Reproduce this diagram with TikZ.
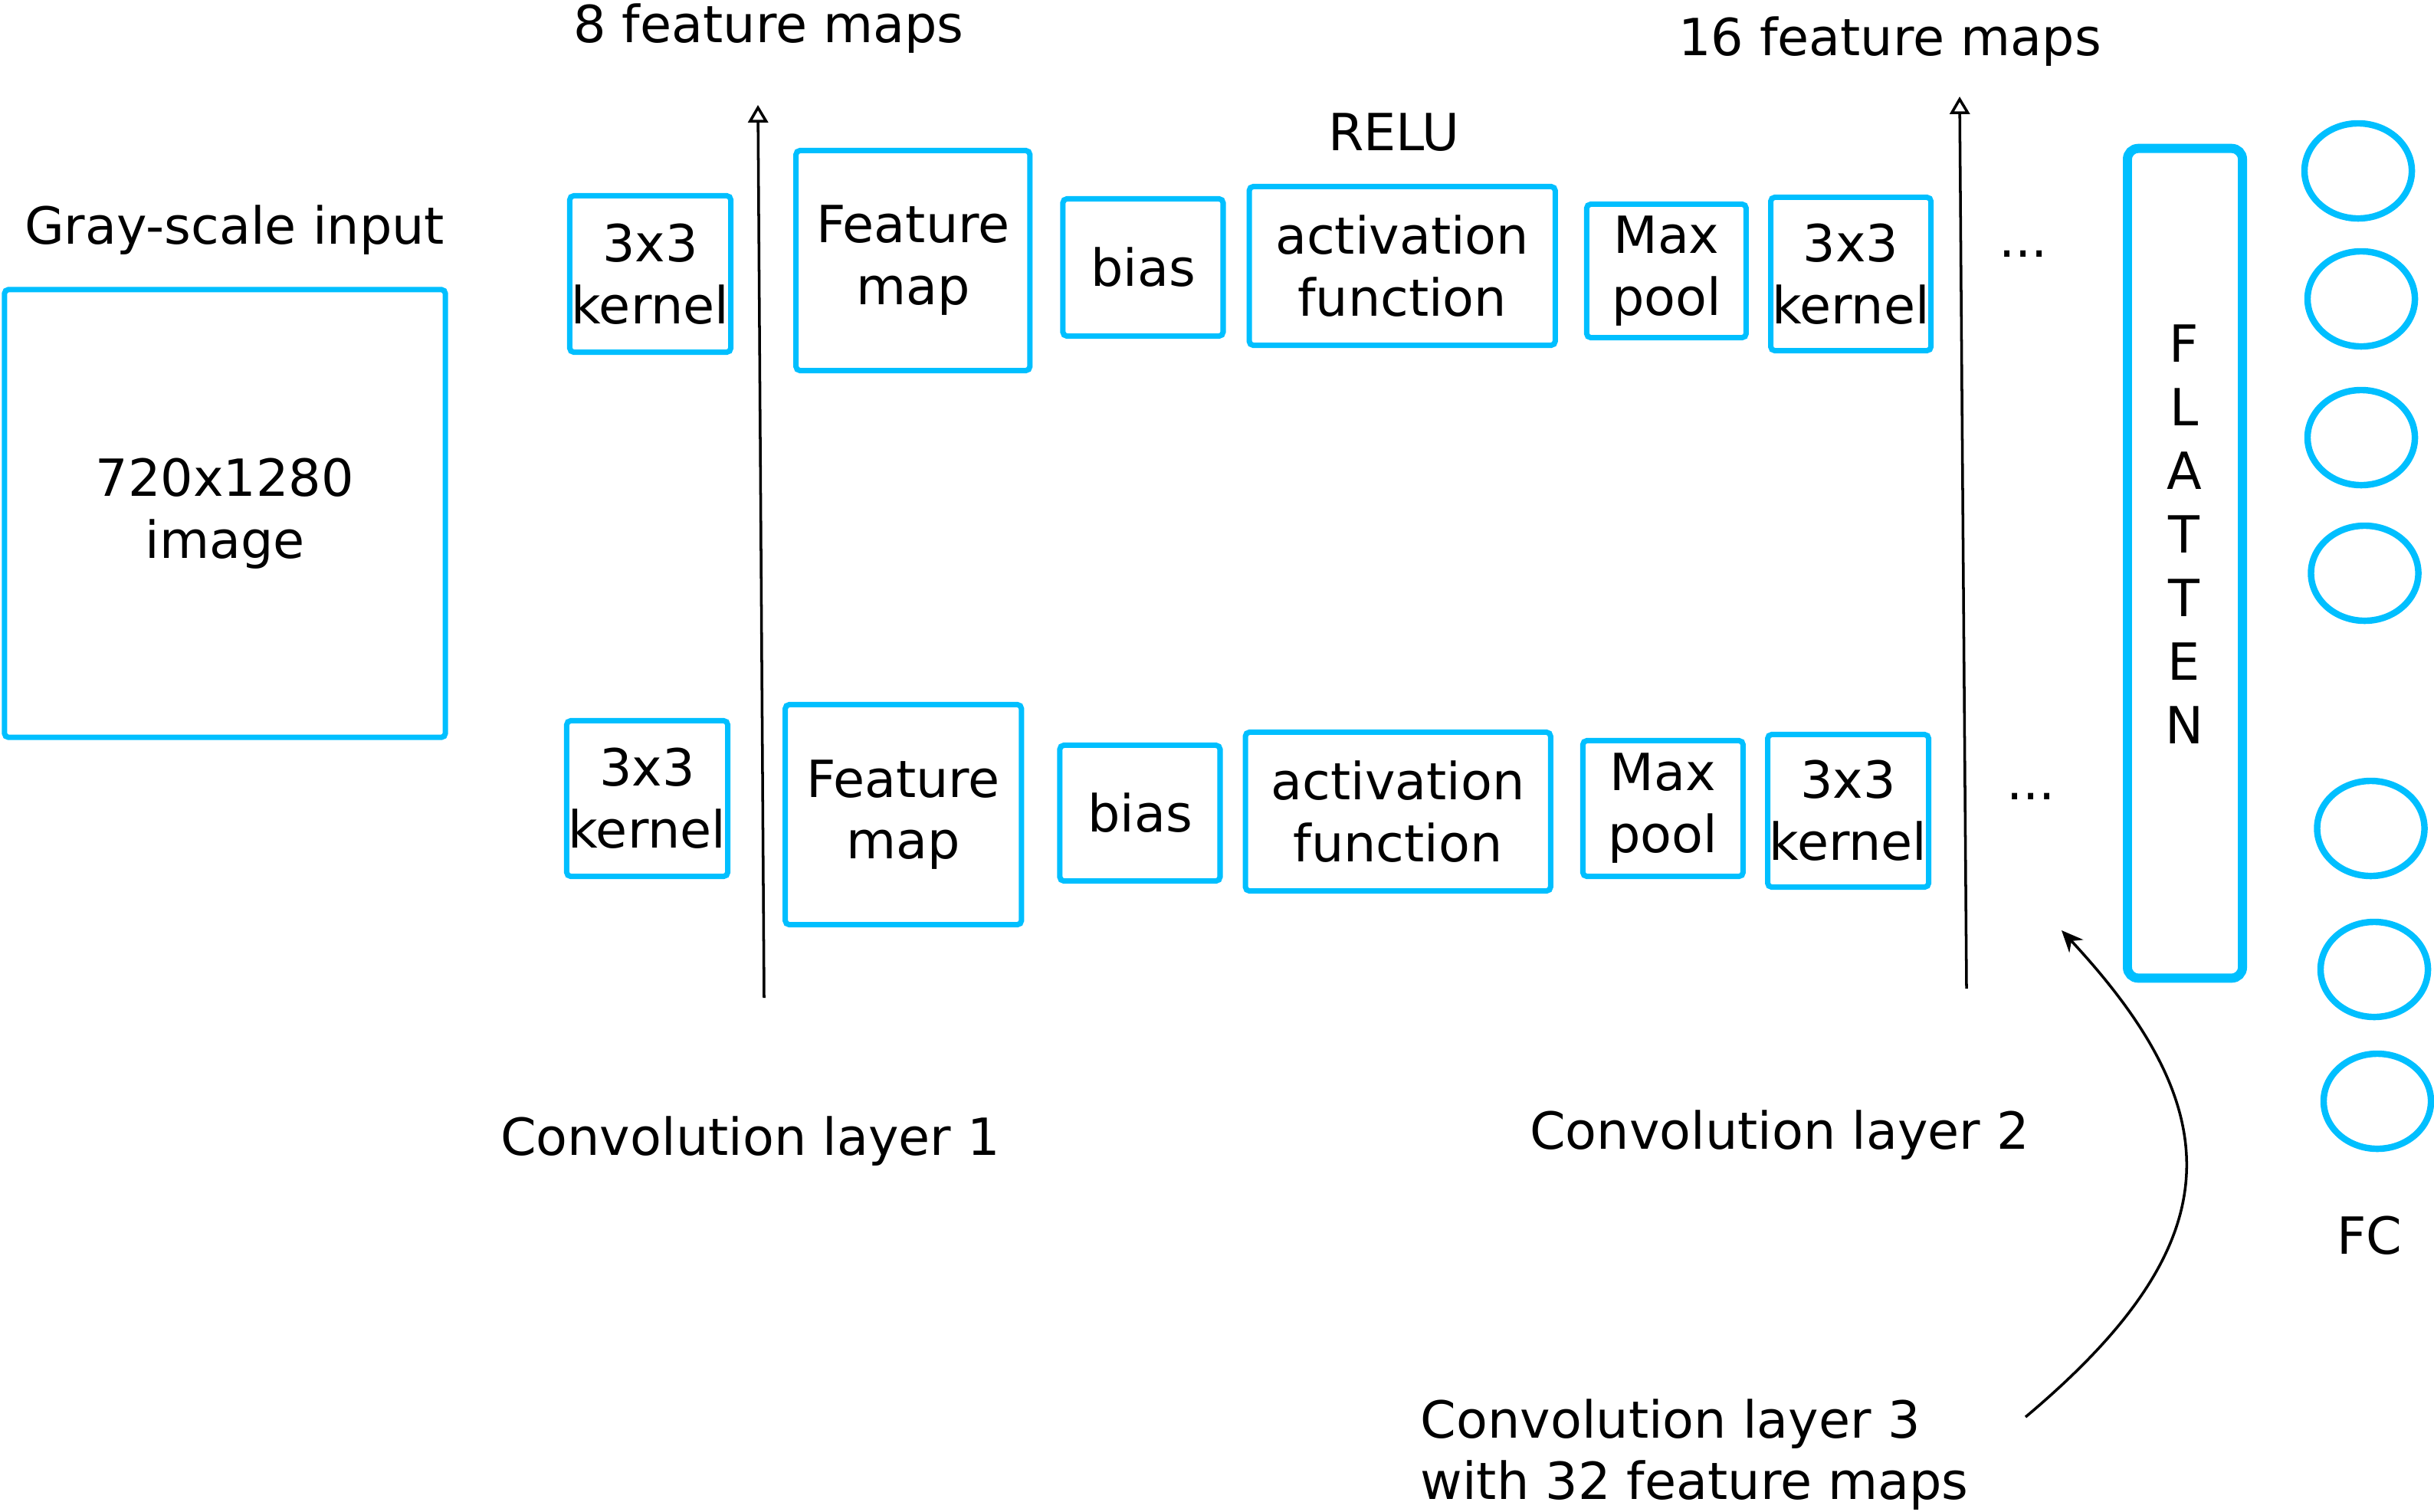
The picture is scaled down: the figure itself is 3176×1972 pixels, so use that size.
\documentclass[tikz,border=0pt]{standalone}
\usepackage{fontspec}
\setmainfont{DejaVu Sans}
\usetikzlibrary{shapes.geometric, arrows.meta, positioning}
\definecolor{skyb}{HTML}{00BFFF}
\tikzset{
  lay/.style  = {rectangle, rounded corners=1.5pt, draw=skyb, line width=2pt,
                 inner sep=0pt, align=center, font=\fontsize{19}{23}\selectfont},
  flat/.style = {rectangle, rounded corners=4pt, draw=skyb, line width=3.4pt,
                 minimum width=1.50cm, minimum height=10.82cm},
  neur/.style = {ellipse, draw=skyb, line width=2.4pt,
                 minimum width=1.40cm, minimum height=1.24cm},
  lbl/.style  = {inner sep=0pt, font=\fontsize{19}{23}\selectfont},
  arr/.style  = {-{Triangle[open, length=6.5pt, width=7.4pt]}, line width=1pt},
  carr/.style = {-{Stealth[length=8pt, width=7pt]}, line width=1pt},
}
\begin{document}
\begin{tikzpicture}[x=0.01cm, y=-0.01cm]
  \useasboundingbox (0,0) rectangle (3176,1972);

  % input image
  \node[lbl, anchor=base] (intitle) at (306,318) {Gray-scale input};
  \node[lay, minimum width=5.75cm, minimum height=5.84cm] (img) at (293.5,670) {720x1280\\image};

  % upper row
  \node[lay, minimum width=2.10cm, minimum height=2.04cm] (k1a) at (848.5,357.5) {3x3\\kernel};
  \node[lay, minimum width=3.05cm, minimum height=2.87cm, right=0.78cm of k1a, yshift=0.175cm] (fm1a) {Feature\\map};
  \node[lay, minimum width=2.09cm, minimum height=1.79cm, right=0.36cm of fm1a, yshift=-0.09cm] (bi1a) {bias};
  \node[lay, minimum width=3.99cm, minimum height=2.07cm, right=0.27cm of bi1a, yshift=0.02cm] (ac1a) {activation\\function};
  \node[lay, minimum width=2.08cm, minimum height=1.74cm, right=0.34cm of ac1a, yshift=-0.065cm] (mp1a) {Max\\pool};
  \node[lay, minimum width=2.09cm, minimum height=2.00cm, right=0.25cm of mp1a, yshift=-0.04cm] (k2a) {3x3\\kernel};

  % lower row
  \node[lay, minimum width=2.10cm, minimum height=2.03cm] (k1b) at (844.5,1042) {3x3\\kernel};
  \node[lay, minimum width=3.08cm, minimum height=2.87cm, right=0.68cm of k1b, yshift=-0.21cm] (fm1b) {Feature\\map};
  \node[lay, minimum width=2.09cm, minimum height=1.77cm, right=0.43cm of fm1b, yshift=0.02cm] (bi1b) {bias};
  \node[lay, minimum width=3.98cm, minimum height=2.07cm, right=0.26cm of bi1b, yshift=0.02cm] (ac1b) {activation\\function};
  \node[lay, minimum width=2.09cm, minimum height=1.77cm, right=0.35cm of ac1b, yshift=0.04cm] (mp1b) {Max\\pool};
  \node[lay, minimum width=2.10cm, minimum height=1.99cm, right=0.25cm of mp1b, yshift=-0.03cm] (k2b) {3x3\\kernel};

  % labels
  \node[lbl, anchor=base] (fm8)  at (1003,55)  {8 feature maps};
  \node[lbl, anchor=base] (fm16) at (2466,72)  {16 feature maps};
  \node[lbl, anchor=base] (relu) at (1819,196) {RELU};
  \node[lbl, anchor=base] (cl1)  at (979,1507) {Convolution layer 1};
  \node[lbl, anchor=base] (cl2)  at (2322,1499) {Convolution layer 2};
  \node[lbl, anchor=west, align=left] (cl3) at (1853,1898) {Convolution layer 3\\with 32 feature maps};
  \node[lbl, anchor=base] (dotsa) at (2640,335)  {...};
  \node[lbl, anchor=base] (dotsb) at (2650,1043) {...};

  % flatten + fully connected
  \node[flat] (flt) at (2851,735) {};
  \node[lbl, align=center, font=\fontsize{19}{23.6}\selectfont] (flttxt) at (2850,697) {F\\L\\A\\T\\T\\E\\N};
  \foreach \i/\x/\y in {1/3077/223, 2/3081/390, 3/3081/571, 4/3085.5/748,
                        5/3093.5/1081, 6/3098/1265, 7/3102/1437}
    \node[neur] (n\i) at (\x,\y) {};
  \node[lbl, anchor=base] (fc) at (3092,1636) {FC};

  % arrows
  \coordinate (v1s) at (997,1302);
  \coordinate (v1e) at (989,137);
  \coordinate (v2s) at (2566,1290);
  \coordinate (v2e) at (2557,126);
  \draw[arr] (v1s) -- (v1e);
  \draw[arr] (v2s) -- (v2e);
  \coordinate (c3s) at (2643,1849);
  \coordinate (c3e) at (2690,1214);
  \draw[carr] (c3s) .. controls (2911,1624) and (2914,1455) .. (c3e);
\end{tikzpicture}
\end{document}
